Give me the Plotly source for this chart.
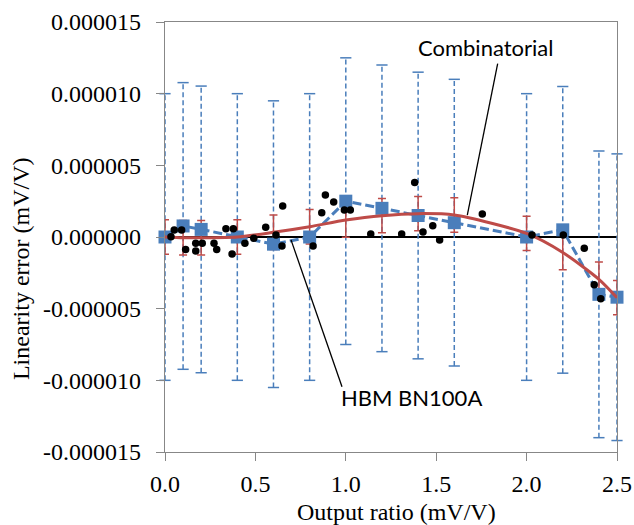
import plotly.graph_objects as go

# ---------------- data (linearity error in units of 1e-6 mV/V) ----------------
x_pts = [0.0, 0.1, 0.2, 0.4, 0.6, 0.8, 1.0, 1.2, 1.4, 1.6, 2.0, 2.2, 2.4, 2.5]
hbm_err_u = [0.0, 0.77, 0.53, 0.0, -0.5, 0.0, 2.5, 2.0, 1.5, 1.0, 0.0, 0.5, -4.0, -4.2]
hbm_unc_u = [10.0, 10.0, 10.0, 10.0, 10.0, 10.0, 10.0, 10.0, 10.0, 10.0, 10.0, 10.0, 10.0, 10.0]
comb_err_u = [0.0, -0.05, -0.05, 0.0, 0.33, 0.72, 1.18, 1.49, 1.63, 1.53, 0.25, -1.08, -2.95, -4.23]
comb_unc_u = [1.2, 1.2, 1.2, 1.2, 1.2, 1.2, 1.2, 1.2, 1.2, 1.2, 1.2, 1.2, 1.2, 1.2]

dots_x = [0.033, 0.051, 0.092, 0.114, 0.170, 0.170, 0.206, 0.271, 0.286, 0.337,
          0.378, 0.371, 0.442, 0.491, 0.557, 0.614, 0.647, 0.651, 0.819, 0.867,
          0.887, 0.933, 0.992, 1.025, 1.138, 1.309, 1.381, 1.427, 1.481, 1.519,
          1.755, 2.030, 2.203, 2.319, 2.374, 2.410]
dots_u = [0.02, 0.49, 0.49, -0.87, -0.44, -0.98, -0.44, -0.44, -0.87, 0.58,
          0.58, -1.19, -0.44, -0.08, 0.68, 0.14, -0.63, 2.16, -0.63, 1.69,
          2.93, 2.44, 1.88, 1.88, 0.21, 0.21, 3.81, 0.35, 0.79, -0.21,
          1.60, 0.14, 0.14, -0.79, -3.33, -4.30]

x_ticks = [0.0, 0.5, 1.0, 1.5, 2.0, 2.5]
y_ticks_u = [15, 10, 5, 0, -5, -10, -15]

# annotation label positions (data units, y in 1e-6)
label_text = ["Combinatorial", "HBM BN100A"]
label_pos = [(1.773, 13.25), (1.366, -11.23)]
leader_from = [(1.672, 1.53), (0.697, -0.20)]
leader_to = [(1.840, 12.10), (0.979, -10.45)]

U = 1e-6
BLUE = "#4A7EBB"
RED = "#BE4B48"
GRAY = "#878787"
SERIF = "Liberation Serif"
SANS = "Lato"

hbm = [v * U for v in hbm_err_u]
hbm_unc = [v * U for v in hbm_unc_u]
comb = [v * U for v in comb_err_u]
comb_unc = [v * U for v in comb_unc_u]
dots_y = [v * U for v in dots_u]

fig = go.Figure()

# blue dashed uncertainty bars
bx, by = [], []
for x, y, e in zip(x_pts, hbm, hbm_unc):
    bx += [x, x, None]
    by += [y - e, y + e, None]
fig.add_trace(go.Scatter(x=bx, y=by, mode="lines",
                         line=dict(color=BLUE, width=1.5, dash="5px,3px"),
                         hoverinfo="skip", cliponaxis=False))
cx = x_pts + x_pts
cy = [y - e for y, e in zip(hbm, hbm_unc)] + [y + e for y, e in zip(hbm, hbm_unc)]
fig.add_trace(go.Scatter(x=cx, y=cy, mode="markers",
                         marker=dict(symbol="line-ew", size=8,
                                     line=dict(color=BLUE, width=1.5)),
                         hoverinfo="skip", cliponaxis=False))

# red error bars (combinatorial)
fig.add_trace(go.Scatter(x=x_pts, y=comb, mode="markers",
                         marker=dict(size=1, color="rgba(0,0,0,0)"),
                         error_y=dict(type="data", array=comb_unc, visible=True,
                                      color=RED, thickness=1.5, width=4),
                         hoverinfo="skip", cliponaxis=False))

# HBM series
fig.add_trace(go.Scatter(x=x_pts, y=hbm, mode="lines+markers", name="HBM BN100A",
                         line=dict(color=BLUE, width=3, dash="9px,4px"),
                         marker=dict(symbol="square", size=13, color=BLUE),
                         cliponaxis=False))

# Combinatorial series
fig.add_trace(go.Scatter(x=x_pts, y=comb, mode="lines", name="Combinatorial",
                         line=dict(color=RED, width=3, shape="spline", smoothing=0.7),
                         cliponaxis=False))

# measurement dots
fig.add_trace(go.Scatter(x=dots_x, y=dots_y, mode="markers",
                         marker=dict(size=7.5, color="black"), cliponaxis=False))

# leader lines and labels
for (x0, y0), (x1, y1) in zip(leader_from, leader_to):
    fig.add_shape(type="line", xref="x", yref="y", x0=x0, y0=y0 * U, x1=x1, y1=y1 * U,
                  line=dict(color="black", width=1.3))
for t, (x, y) in zip(label_text, label_pos):
    fig.add_annotation(x=x, y=y * U, xref="x", yref="y", text=t, showarrow=False,
                       font=dict(family=SANS, size=22, color="black"),
                       xanchor="center", yanchor="middle")

# axis titles
fig.add_annotation(text="Output ratio (mV/V)", xref="paper", yref="paper",
                   x=0.513, y=-0.140, showarrow=False, xanchor="center", yanchor="middle",
                   font=dict(family=SERIF, size=24, color="black"))
fig.add_annotation(text="Linearity error (mV/V)", xref="paper", yref="paper",
                   x=-0.318, y=0.426, showarrow=False, textangle=-90,
                   xanchor="center", yanchor="middle",
                   font=dict(family=SERIF, size=24, color="black"))

fig.update_layout(
    width=634, height=525, autosize=False,
    margin=dict(l=165, r=17, t=22, b=73, autoexpand=False),
    plot_bgcolor="white", paper_bgcolor="white",
    showlegend=False,
    xaxis=dict(range=[0, 2.5], tickvals=x_ticks, ticktext=[f"{v:.1f}" for v in x_ticks],
               ticks="outside", ticklen=8, tickcolor=GRAY, tickwidth=1.3,
               showline=True, linecolor=GRAY, linewidth=1.3, mirror=True,
               showgrid=False, zeroline=False, automargin=False,
               tickfont=dict(family=SERIF, size=24, color="black"),
               ticklabelstandoff=2),
    yaxis=dict(range=[-15 * U, 15 * U], tickvals=[v * U for v in y_ticks_u],
               ticktext=[f"{v * U:.6f}" for v in y_ticks_u],
               ticks="outside", ticklen=8, tickcolor=GRAY, tickwidth=1.3,
               showline=True, linecolor=GRAY, linewidth=1.3, mirror=True,
               showgrid=False, zeroline=True, zerolinecolor="black", zerolinewidth=1.5,
               automargin=False,
               tickfont=dict(family=SERIF, size=24, color="black"),
               ticklabelstandoff=10),
)

fig.write_html("out.html", config={"responsive": False})
